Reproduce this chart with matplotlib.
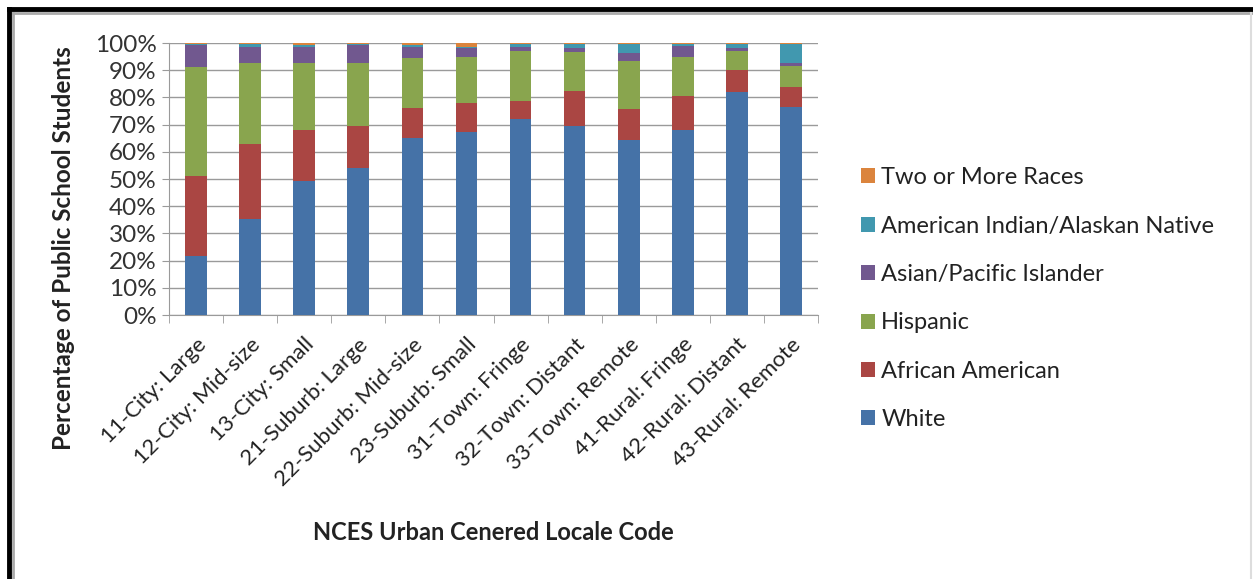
import matplotlib.pyplot as plt
import numpy as np
from matplotlib.lines import Line2D
from matplotlib.patches import Patch

plt.rcParams['font.family'] = ['Lato', 'DejaVu Sans']

# Locale categories
locales = ['11-City: Large', '12-City: Mid-size', '13-City: Small', '21-Suburb: Large',
           '22-Suburb: Mid-size', '23-Suburb: Small', '31-Town: Fringe', '32-Town: Distant',
           '33-Town: Remote', '41-Rural: Fringe', '42-Rural: Distant', '43-Rural: Remote']

# Share of students (%) by group, per locale
white = [21.7, 35.3, 49.4, 54.2, 65.0, 67.3, 71.9, 69.5, 64.3, 68.1, 81.9, 76.6]
african_american = [29.5, 27.6, 18.7, 15.2, 11.1, 10.8, 6.6, 12.7, 11.4, 12.3, 8.2, 7.1]
hispanic = [39.8, 29.6, 24.4, 23.1, 18.3, 16.9, 18.7, 14.5, 17.8, 14.6, 7.1, 7.8]
asian = [8.3, 6.2, 6.2, 6.8, 4.0, 3.0, 1.2, 1.3, 2.7, 3.9, 0.8, 1.0]
american_indian = [0.3, 0.8, 0.6, 0.3, 1.0, 0.7, 1.4, 1.5, 3.5, 0.7, 1.7, 7.2]
two_or_more = [0.4, 0.5, 0.7, 0.4, 0.6, 1.3, 0.2, 0.5, 0.3, 0.4, 0.3, 0.3]

series = [
    ('White', white, '#4572A7'),
    ('African American', african_american, '#AA4643'),
    ('Hispanic', hispanic, '#89A54E'),
    ('Asian/Pacific Islander', asian, '#71588F'),
    ('American Indian/Alaskan Native', american_indian, '#4198AF'),
    ('Two or More Races', two_or_more, '#DB843D'),
]

fig = plt.figure(figsize=(12.53, 5.79), dpi=100)
ax = fig.add_axes([169 / 1253, 1 - 315 / 579, (818 - 169) / 1253, (315 - 43) / 579])

x = np.arange(len(locales))
bottom = np.zeros(len(locales))
for name, vals, color in series:
    ax.bar(x, vals, 0.4, bottom=bottom, color=color, label=name, zorder=3)
    bottom += np.array(vals)

ax.set_xlim(-0.5, len(locales) - 0.5)
ax.set_ylim(0, 100)
ax.set_yticks(np.arange(0, 101, 10))
ax.set_yticklabels([f'{v}%' for v in range(0, 101, 10)], fontsize=17.5, color='#333333')
ax.yaxis.grid(True, color='#9a9a9a', linewidth=1, zorder=0)
ax.tick_params(axis='y', length=5, color='#9a9a9a', pad=4, direction='out')

# category boundary ticks
ax.set_xticks(np.arange(-0.5, len(locales)), minor=True)
ax.set_xticks(x)
ax.set_xticklabels(locales, rotation=45, ha='right', rotation_mode='anchor',
                   fontsize=16, color='#222222')
ax.tick_params(axis='x', which='major', length=0, pad=14)
ax.tick_params(axis='x', which='minor', length=6, color='#9a9a9a', direction='out')

for side in ['top', 'right']:
    ax.spines[side].set_visible(False)
for side in ['left', 'bottom']:
    ax.spines[side].set_color('#9a9a9a')

fig.text(493 / 1253, 1 - 533 / 579, 'NCES Urban Cenered Locale Code', ha='center', va='center',
         fontsize=17, fontweight='bold', color='#222222')
fig.text(64 / 1253, 1 - 248 / 579, 'Percentage of Public School Students', ha='center', va='center',
         rotation=90, fontsize=17.5, fontweight='bold', color='#222222')

handles = [Patch(facecolor=c, label=n) for n, _, c in series][::-1]
fig.legend(handles=handles, loc='upper left', bbox_to_anchor=(840 / 1253, 1 - 146 / 579),
           frameon=False, fontsize=17, handlelength=0.6, handleheight=0.6,
           handletextpad=0.25, labelspacing=1.16, labelcolor='#222222')

# outer frame
fig.add_artist(Line2D([9 / 1253, 9 / 1253], [0, 1 - 9 / 579], color='black', linewidth=3.5))
fig.add_artist(Line2D([9 / 1253, 1], [1 - 9 / 579, 1 - 9 / 579], color='black', linewidth=3.5))
fig.add_artist(Line2D([12.5 / 1253, 12.5 / 1253], [0, 1 - 12.5 / 579], color='#aaaaaa', linewidth=2))
fig.add_artist(Line2D([12.5 / 1253, 1], [1 - 12.5 / 579, 1 - 12.5 / 579], color='#aaaaaa', linewidth=2))
fig.add_artist(Line2D([1251 / 1253, 1251 / 1253], [0, 1 - 13 / 579], color='#dddddd', linewidth=1.5))

fig.savefig('out.png', dpi=100)
